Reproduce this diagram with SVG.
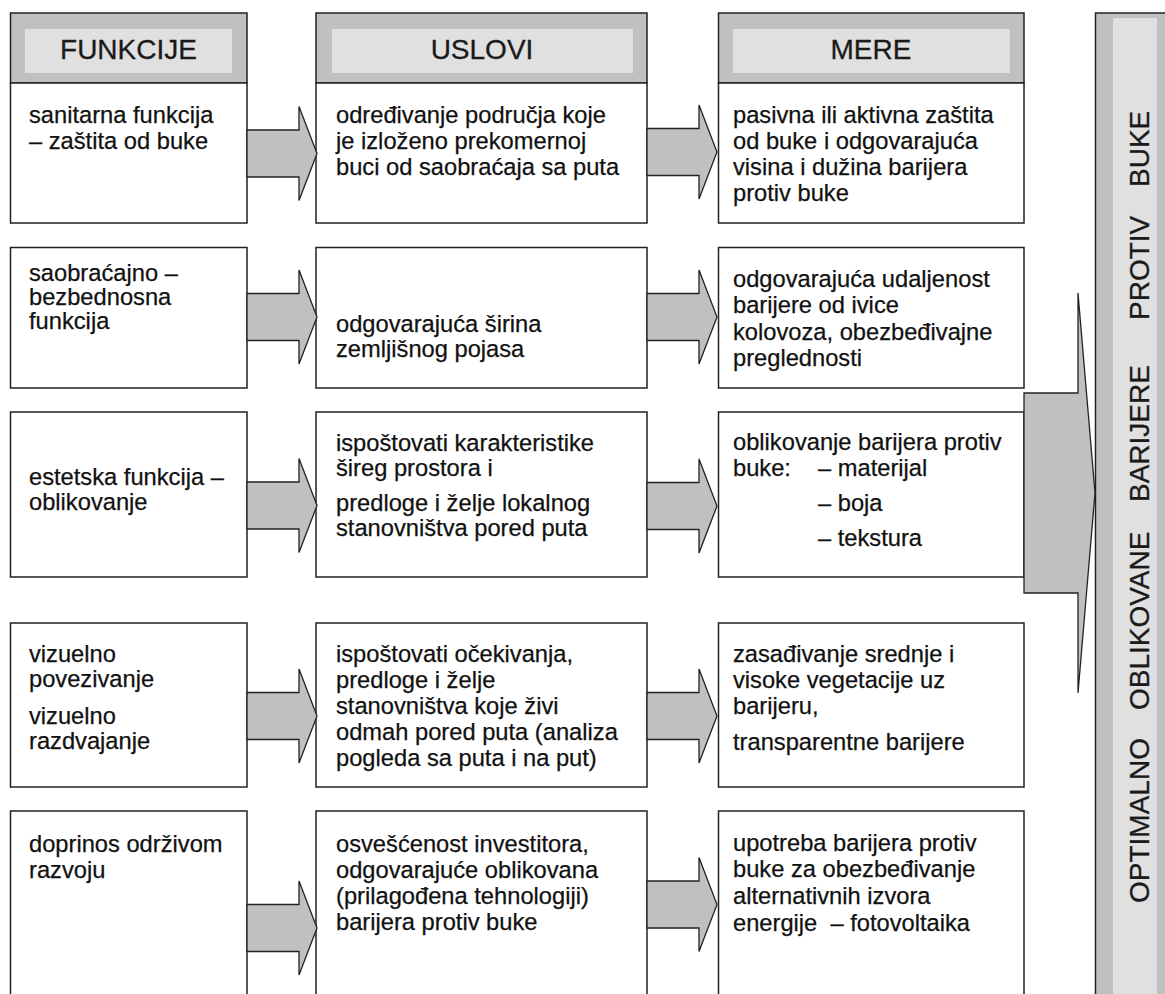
<svg xmlns="http://www.w3.org/2000/svg" width="1165" height="994" viewBox="0 0 1165 994">
<defs>
<style>
.box{fill:#fff;stroke:#222;stroke-width:1.5}
.hdr{fill:#c0c0c0;stroke:#222;stroke-width:1.5}
.hin{fill:#e0e0e0}
.ht{font-family:"Liberation Sans",Arial,sans-serif;font-size:28px;fill:#1a1a1a;stroke:#1a1a1a;stroke-width:0.3;text-anchor:middle}
.t{font-family:"Liberation Sans",Arial,sans-serif;font-size:23.7px;fill:#111;stroke:#111;stroke-width:0.25}
.bt{font-family:"Liberation Sans",Arial,sans-serif;font-size:28px;fill:#1a1a1a;stroke:#1a1a1a;stroke-width:0.3}
.arr{fill:#c0c0c0;stroke:#222;stroke-width:1.3;stroke-linejoin:miter}
</style>
<path id="ar" d="M0,-23.5 H52 V-47 L70,0 L52,47 V23.5 H0 Z"/>
</defs>
<rect width="1165" height="994" fill="#fff"/>

<g id="bar">
<rect x="1095.5" y="13" width="80" height="1000" class="hdr"/>
<rect x="1113" y="18" width="44" height="990" class="hin"/>
<text class="bt" transform="translate(1149,903) rotate(-90)">OPTIMALNO</text>
<text class="bt" transform="translate(1149,710) rotate(-90)">OBLIKOVANE</text>
<text class="bt" transform="translate(1149,502) rotate(-90)">BARIJERE</text>
<text class="bt" transform="translate(1149,320) rotate(-90)">PROTIV</text>
<text class="bt" transform="translate(1149,187) rotate(-90)">BUKE</text>
</g>

<g id="h1"><rect x="10.5" y="13" width="236.5" height="70" class="hdr"/><rect x="25" y="29" width="207" height="44" class="hin"/><text x="128.5" y="58.5" class="ht">FUNKCIJE</text></g>
<g id="h2"><rect x="316" y="13" width="331" height="70" class="hdr"/><rect x="332" y="29" width="301" height="44" class="hin"/><text x="482" y="58.5" class="ht">USLOVI</text></g>
<g id="h3"><rect x="718.5" y="13" width="305.5" height="70" class="hdr"/><rect x="733" y="29" width="277" height="44" class="hin"/><text x="871" y="58.5" class="ht">MERE</text></g>

<g id="r1c1"><rect x="10.5" y="83" width="236.5" height="140" class="box"/><text class="t"><tspan x="29" y="123">sanitarna funkcija</tspan><tspan x="29" y="149">– zaštita od buke</tspan></text></g>
<g id="r1c2"><rect x="316" y="83" width="331" height="140" class="box"/><text class="t"><tspan x="336" y="123">određivanje područja koje</tspan><tspan x="336" y="149">je izloženo prekomernoj</tspan><tspan x="336" y="175">buci od saobraćaja sa puta</tspan></text></g>
<g id="r1c3"><rect x="718.5" y="83" width="305.5" height="140" class="box"/><text class="t"><tspan x="733" y="123">pasivna ili aktivna zaštita</tspan><tspan x="733" y="149">od buke i odgovarajuća</tspan><tspan x="733" y="175">visina i dužina barijera</tspan><tspan x="733" y="201">protiv buke</tspan></text></g>

<g id="r2c1"><rect x="10.5" y="247.5" width="236.5" height="140.5" class="box"/><text class="t"><tspan x="29" y="281">saobraćajno –</tspan><tspan x="29" y="305">bezbednosna</tspan><tspan x="29" y="329">funkcija</tspan></text></g>
<g id="r2c2"><rect x="316" y="247.5" width="331" height="140.5" class="box"/><text class="t"><tspan x="336" y="332">odgovarajuća širina</tspan><tspan x="336" y="357">zemljišnog pojasa</tspan></text></g>
<g id="r2c3"><rect x="718.5" y="247.5" width="305.5" height="140.5" class="box"/><text class="t"><tspan x="733" y="287">odgovarajuća udaljenost</tspan><tspan x="733" y="313">barijere od ivice</tspan><tspan x="733" y="340">kolovoza, obezbeđivajne</tspan><tspan x="733" y="366">preglednosti</tspan></text></g>

<g id="r3c1"><rect x="10.5" y="412" width="236.5" height="165" class="box"/><text class="t"><tspan x="29" y="485">estetska funkcija –</tspan><tspan x="29" y="510">oblikovanje</tspan></text></g>
<g id="r3c2"><rect x="316" y="412" width="331" height="165" class="box"/><text class="t"><tspan x="336" y="451">ispoštovati karakteristike</tspan><tspan x="336" y="476">šireg prostora i</tspan><tspan x="336" y="511">predloge i želje lokalnog</tspan><tspan x="336" y="536">stanovništva pored puta</tspan></text></g>
<g id="r3c3"><rect x="718.5" y="412" width="305.5" height="165" class="box"/><text class="t"><tspan x="733" y="450">oblikovanje barijera protiv</tspan><tspan x="733" y="476">buke:</tspan><tspan x="818" y="476">– materijal</tspan><tspan x="818" y="511">– boja</tspan><tspan x="818" y="546">– tekstura</tspan></text></g>

<g id="r4c1"><rect x="10.5" y="623" width="236.5" height="164" class="box"/><text class="t"><tspan x="29" y="662">vizuelno</tspan><tspan x="29" y="687">povezivanje</tspan><tspan x="29" y="724">vizuelno</tspan><tspan x="29" y="749">razdvajanje</tspan></text></g>
<g id="r4c2"><rect x="316" y="623" width="331" height="164" class="box"/><text class="t"><tspan x="336" y="662">ispoštovati očekivanja,</tspan><tspan x="336" y="688">predloge i želje</tspan><tspan x="336" y="714">stanovništva koje živi</tspan><tspan x="336" y="740">odmah pored puta (analiza</tspan><tspan x="336" y="766">pogleda sa puta i na put)</tspan></text></g>
<g id="r4c3"><rect x="718.5" y="623" width="305.5" height="164" class="box"/><text class="t"><tspan x="733" y="662">zasađivanje srednje i</tspan><tspan x="733" y="688">visoke vegetacije uz</tspan><tspan x="733" y="714">barijeru,</tspan><tspan x="733" y="750">transparentne barijere</tspan></text></g>

<g id="r5c1"><rect x="10.5" y="811" width="236.5" height="200" class="box"/><text class="t"><tspan x="29" y="852">doprinos održivom</tspan><tspan x="29" y="878">razvoju</tspan></text></g>
<g id="r5c2"><rect x="316" y="811" width="331" height="200" class="box"/><text class="t"><tspan x="336" y="852">osvešćenost investitora,</tspan><tspan x="336" y="878">odgovarajuće oblikovana</tspan><tspan x="336" y="904">(prilagođena tehnologiji)</tspan><tspan x="336" y="930">barijera protiv buke</tspan></text></g>
<g id="r5c3"><rect x="718.5" y="811" width="305.5" height="200" class="box"/><text class="t"><tspan x="733" y="851">upotreba barijera protiv</tspan><tspan x="733" y="877">buke za obezbeđivanje</tspan><tspan x="733" y="904">alternativnih izvora</tspan><tspan x="733" y="931">energije&#160; – fotovoltaika</tspan></text></g>

<g id="connectors">
<use href="#ar" class="arr" transform="translate(247,153.5)"/>
<use href="#ar" class="arr" transform="translate(647,152)"/>
<use href="#ar" class="arr" transform="translate(247,317)"/>
<use href="#ar" class="arr" transform="translate(647,317)"/>
<use href="#ar" class="arr" transform="translate(247,505.5)"/>
<use href="#ar" class="arr" transform="translate(647,506)"/>
<use href="#ar" class="arr" transform="translate(247,716)"/>
<use href="#ar" class="arr" transform="translate(647,716)"/>
<use href="#ar" class="arr" transform="translate(247,928)"/>
<use href="#ar" class="arr" transform="translate(647,904.5)"/>
<path class="arr" d="M1024,393 H1078 V293 L1095,493 L1078,693 V593 H1024 Z"/>
</g>
</svg>
